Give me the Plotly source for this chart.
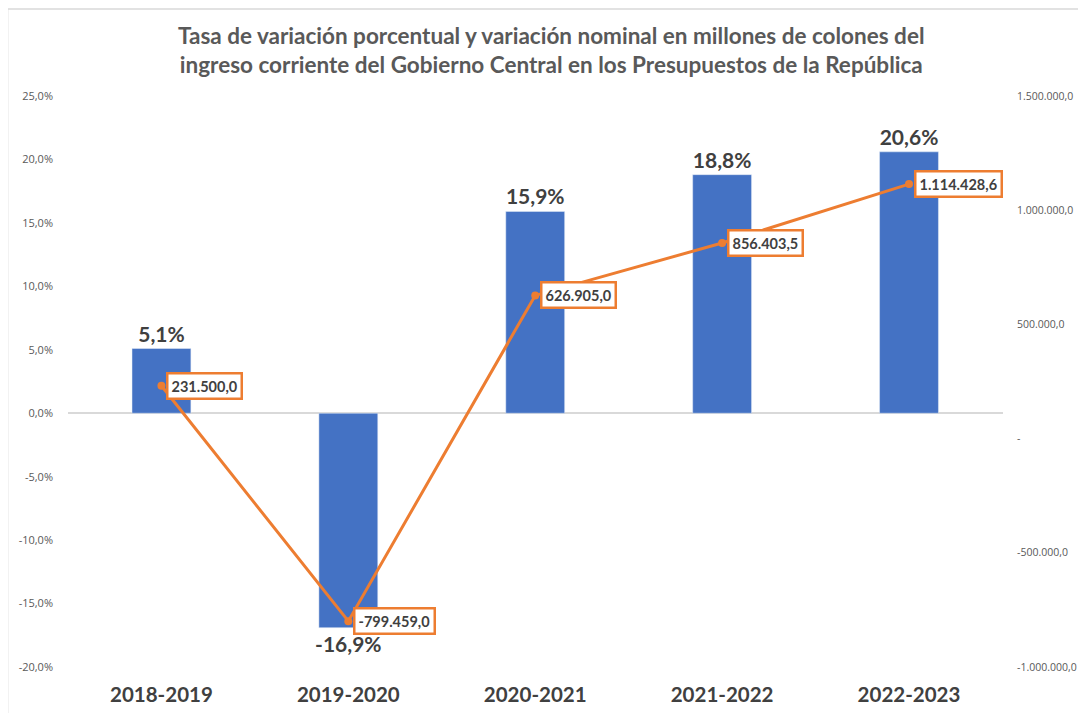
import plotly.graph_objects as go

categories = ["2018-2019", "2019-2020", "2020-2021", "2021-2022", "2022-2023"]
pct_change = [5.1, -16.9, 15.9, 18.8, 20.6]
nominal_change = [231500.0, -799459.0, 626905.0, 856403.5, 1114428.6]

left_tickvals = [-20, -15, -10, -5, 0, 5, 10, 15, 20, 25]
left_ticktext = ["-20,0%", "-15,0%", "-10,0%", "-5,0%", "0,0%", "5,0%", "10,0%", "15,0%", "20,0%", "25,0%"]
right_tickvals = [-1000000, -500000, 0, 500000, 1000000, 1500000]
right_ticktext = ["-1.000.000,0", "-500.000,0", "-", "500.000,0", "1.000.000,0", "1.500.000,0"]

title_lines = ["Tasa de variación porcentual y variación nominal en millones de colones del",
               "ingreso corriente del Gobierno Central en los Presupuestos de la República"]

FONT = "Lato"
DARK = "#404040"
GRAY = "#595959"
BLUE = "#4472C4"
ORANGE = "#ED7D31"
BORDER = "#D9D9D9"


def fmt_es(v, dec=1):
    s = f"{abs(v):,.{dec}f}".replace(",", "X").replace(".", ",").replace("X", ".")
    return ("-" if v < 0 else "") + s


fig = go.Figure()
fig.add_trace(go.Bar(
    x=categories, y=pct_change, marker_color=BLUE,
    text=[fmt_es(v) + "%" for v in pct_change],
    textposition="outside", constraintext="none", cliponaxis=False,
    textfont=dict(family=FONT, size=21, color=DARK, weight="bold"),
    yaxis="y", hoverinfo="skip",
))
fig.add_trace(go.Scatter(
    x=categories, y=nominal_change, mode="lines+markers",
    line=dict(color=ORANGE, width=3), marker=dict(color=ORANGE, size=8),
    yaxis="y2", cliponaxis=False, hoverinfo="skip",
))

for c, v in zip(categories, nominal_change):
    fig.add_annotation(
        x=c, y=v, xref="x", yref="y2", text="<b>" + fmt_es(v) + "</b>",
        showarrow=False, xanchor="left", yanchor="middle", xshift=5,
        font=dict(family=FONT, size=14.5, color=DARK),
        bgcolor="white", bordercolor=ORANGE, borderwidth=2.5, borderpad=3,
    )

fig.add_annotation(
    x=0.5, y=1, xref="paper", yref="paper", yshift=76, xshift=15, yanchor="top",
    text="<b>" + "<br>".join(title_lines) + "</b>", showarrow=False,
    font=dict(family=FONT, size=22.5, color=GRAY),
)

# chart border (top and left edges visible)
fig.add_shape(type="line", xref="paper", yref="paper", x0=-0.0646, x1=-0.0646, y0=-0.3, y1=1.1524,
              line=dict(color=BORDER, width=1.5))
fig.add_shape(type="line", xref="paper", yref="paper", x0=-0.0646, x1=1.3, y0=1.1524, y1=1.1524,
              line=dict(color=BORDER, width=1.5))

fig.update_layout(
    width=1086, height=713,
    margin=dict(l=59.5, r=90.5, t=88, b=54, autoexpand=False),
    paper_bgcolor="white", plot_bgcolor="white",
    showlegend=False, bargap=0.685,
    xaxis=dict(showgrid=False, showline=False, ticks="", ticklabelstandoff=13, automargin=False,
               tickfont=dict(family=FONT, size=20.5, color=DARK, weight="bold")),
    yaxis=dict(range=[-20, 25], tickvals=left_tickvals, ticktext=left_ticktext, automargin=False,
               showgrid=False, zeroline=True, zerolinecolor=BORDER, zerolinewidth=1.5,
               showline=False, ticklabelstandoff=14,
               tickfont=dict(family="Open Sans", size=11, color=GRAY)),
    yaxis2=dict(range=[-1000000, 1500000], tickvals=right_tickvals, ticktext=right_ticktext,
                overlaying="y", side="right", showgrid=False, zeroline=False, showline=False,
                ticklabelstandoff=13, automargin=False,
                tickfont=dict(family="Open Sans", size=10.5, color=GRAY)),
)

fig.write_html("out.html")
